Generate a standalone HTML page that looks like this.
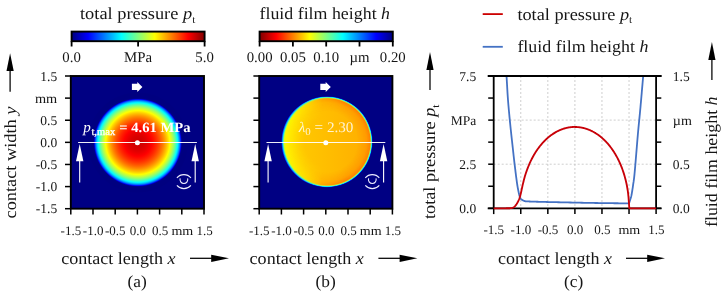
<!DOCTYPE html>
<html><head><meta charset="utf-8"><title>figure</title><style>html,body{margin:0;padding:0;background:#fff;overflow:hidden}svg{display:block;will-change:transform}text{font-family:"Liberation Serif",serif;fill:#161616;text-rendering:geometricPrecision}</style></head><body>
<svg width="728" height="295" viewBox="0 0 728 295">
<defs>
<linearGradient id="jet" x1="0" x2="1" y1="0" y2="0"><stop offset="0.0000" stop-color="#000080"/><stop offset="0.0312" stop-color="#00009f"/><stop offset="0.0625" stop-color="#0000bf"/><stop offset="0.0938" stop-color="#0000df"/><stop offset="0.1250" stop-color="#0000ff"/><stop offset="0.1562" stop-color="#0020ff"/><stop offset="0.1875" stop-color="#0040ff"/><stop offset="0.2188" stop-color="#0060ff"/><stop offset="0.2500" stop-color="#0080ff"/><stop offset="0.2812" stop-color="#009fff"/><stop offset="0.3125" stop-color="#00bfff"/><stop offset="0.3438" stop-color="#00dfff"/><stop offset="0.3750" stop-color="#00ffff"/><stop offset="0.4062" stop-color="#20ffdf"/><stop offset="0.4375" stop-color="#40ffbf"/><stop offset="0.4688" stop-color="#60ff9f"/><stop offset="0.5000" stop-color="#80ff80"/><stop offset="0.5312" stop-color="#9fff60"/><stop offset="0.5625" stop-color="#bfff40"/><stop offset="0.5938" stop-color="#dfff20"/><stop offset="0.6250" stop-color="#ffff00"/><stop offset="0.6562" stop-color="#ffdf00"/><stop offset="0.6875" stop-color="#ffbf00"/><stop offset="0.7188" stop-color="#ff9f00"/><stop offset="0.7500" stop-color="#ff8000"/><stop offset="0.7812" stop-color="#ff6000"/><stop offset="0.8125" stop-color="#ff4000"/><stop offset="0.8438" stop-color="#ff2000"/><stop offset="0.8750" stop-color="#ff0000"/><stop offset="0.9062" stop-color="#df0000"/><stop offset="0.9375" stop-color="#bf0000"/><stop offset="0.9688" stop-color="#9f0000"/><stop offset="1.0000" stop-color="#800000"/></linearGradient>
<linearGradient id="jetr" x1="0" x2="1" y1="0" y2="0"><stop offset="0.0000" stop-color="#800000"/><stop offset="0.0312" stop-color="#9f0000"/><stop offset="0.0625" stop-color="#bf0000"/><stop offset="0.0938" stop-color="#df0000"/><stop offset="0.1250" stop-color="#ff0000"/><stop offset="0.1562" stop-color="#ff2000"/><stop offset="0.1875" stop-color="#ff4000"/><stop offset="0.2188" stop-color="#ff6000"/><stop offset="0.2500" stop-color="#ff8000"/><stop offset="0.2812" stop-color="#ff9f00"/><stop offset="0.3125" stop-color="#ffbf00"/><stop offset="0.3438" stop-color="#ffdf00"/><stop offset="0.3750" stop-color="#ffff00"/><stop offset="0.4062" stop-color="#dfff20"/><stop offset="0.4375" stop-color="#bfff40"/><stop offset="0.4688" stop-color="#9fff60"/><stop offset="0.5000" stop-color="#80ff80"/><stop offset="0.5312" stop-color="#60ff9f"/><stop offset="0.5625" stop-color="#40ffbf"/><stop offset="0.5938" stop-color="#20ffdf"/><stop offset="0.6250" stop-color="#00ffff"/><stop offset="0.6562" stop-color="#00dfff"/><stop offset="0.6875" stop-color="#00bfff"/><stop offset="0.7188" stop-color="#009fff"/><stop offset="0.7500" stop-color="#0080ff"/><stop offset="0.7812" stop-color="#0060ff"/><stop offset="0.8125" stop-color="#0040ff"/><stop offset="0.8438" stop-color="#0020ff"/><stop offset="0.8750" stop-color="#0000ff"/><stop offset="0.9062" stop-color="#0000df"/><stop offset="0.9375" stop-color="#0000bf"/><stop offset="0.9688" stop-color="#00009f"/><stop offset="1.0000" stop-color="#000080"/></linearGradient>
<radialGradient id="hz" cx="0.5" cy="0.5" r="0.5"><stop offset="0.0000" stop-color="#cf0000"/><stop offset="0.0100" stop-color="#cf0000"/><stop offset="0.0200" stop-color="#cf0000"/><stop offset="0.0300" stop-color="#d00000"/><stop offset="0.0400" stop-color="#d00000"/><stop offset="0.0500" stop-color="#d10000"/><stop offset="0.0600" stop-color="#d10000"/><stop offset="0.0700" stop-color="#d20000"/><stop offset="0.0800" stop-color="#d30000"/><stop offset="0.0900" stop-color="#d40000"/><stop offset="0.1000" stop-color="#d50000"/><stop offset="0.1100" stop-color="#d70000"/><stop offset="0.1200" stop-color="#d80000"/><stop offset="0.1300" stop-color="#da0000"/><stop offset="0.1400" stop-color="#db0000"/><stop offset="0.1500" stop-color="#dd0000"/><stop offset="0.1600" stop-color="#df0000"/><stop offset="0.1700" stop-color="#e10000"/><stop offset="0.1800" stop-color="#e30000"/><stop offset="0.1900" stop-color="#e60000"/><stop offset="0.2000" stop-color="#e80000"/><stop offset="0.2100" stop-color="#eb0000"/><stop offset="0.2200" stop-color="#ee0000"/><stop offset="0.2300" stop-color="#f10000"/><stop offset="0.2400" stop-color="#f40000"/><stop offset="0.2500" stop-color="#f70000"/><stop offset="0.2600" stop-color="#fa0000"/><stop offset="0.2700" stop-color="#fd0000"/><stop offset="0.2800" stop-color="#ff0200"/><stop offset="0.2900" stop-color="#ff0600"/><stop offset="0.3000" stop-color="#ff0a00"/><stop offset="0.3100" stop-color="#ff0e00"/><stop offset="0.3200" stop-color="#ff1200"/><stop offset="0.3300" stop-color="#ff1600"/><stop offset="0.3400" stop-color="#ff1b00"/><stop offset="0.3500" stop-color="#ff1f00"/><stop offset="0.3600" stop-color="#ff2400"/><stop offset="0.3700" stop-color="#ff2900"/><stop offset="0.3800" stop-color="#ff2e00"/><stop offset="0.3900" stop-color="#ff3400"/><stop offset="0.4000" stop-color="#ff3900"/><stop offset="0.4100" stop-color="#ff3f00"/><stop offset="0.4200" stop-color="#ff4500"/><stop offset="0.4300" stop-color="#ff4b00"/><stop offset="0.4400" stop-color="#ff5100"/><stop offset="0.4500" stop-color="#ff5800"/><stop offset="0.4600" stop-color="#ff5e00"/><stop offset="0.4700" stop-color="#ff6500"/><stop offset="0.4800" stop-color="#ff6c00"/><stop offset="0.4900" stop-color="#ff7300"/><stop offset="0.5000" stop-color="#ff7b00"/><stop offset="0.5100" stop-color="#ff8300"/><stop offset="0.5200" stop-color="#ff8a00"/><stop offset="0.5300" stop-color="#ff9300"/><stop offset="0.5400" stop-color="#ff9b00"/><stop offset="0.5500" stop-color="#ffa400"/><stop offset="0.5600" stop-color="#ffad00"/><stop offset="0.5700" stop-color="#ffb600"/><stop offset="0.5800" stop-color="#ffbf00"/><stop offset="0.5900" stop-color="#ffc900"/><stop offset="0.6000" stop-color="#ffd300"/><stop offset="0.6100" stop-color="#ffde00"/><stop offset="0.6200" stop-color="#ffe900"/><stop offset="0.6300" stop-color="#fff400"/><stop offset="0.6400" stop-color="#ffff00"/><stop offset="0.6500" stop-color="#f3ff0c"/><stop offset="0.6600" stop-color="#e6ff19"/><stop offset="0.6700" stop-color="#d9ff26"/><stop offset="0.6800" stop-color="#ccff33"/><stop offset="0.6900" stop-color="#beff41"/><stop offset="0.7000" stop-color="#b0ff4f"/><stop offset="0.7100" stop-color="#a1ff5e"/><stop offset="0.7200" stop-color="#92ff6d"/><stop offset="0.7300" stop-color="#81ff7e"/><stop offset="0.7400" stop-color="#70ff8f"/><stop offset="0.7500" stop-color="#5effa1"/><stop offset="0.7600" stop-color="#4bffb4"/><stop offset="0.7700" stop-color="#37ffc8"/><stop offset="0.7800" stop-color="#22ffdd"/><stop offset="0.7900" stop-color="#0cfff3"/><stop offset="0.8000" stop-color="#00f2ff"/><stop offset="0.8100" stop-color="#00d8ff"/><stop offset="0.8200" stop-color="#00bbff"/><stop offset="0.8300" stop-color="#009bff"/><stop offset="0.8400" stop-color="#0076ff"/><stop offset="0.8500" stop-color="#004bff"/><stop offset="0.8600" stop-color="#0013ff"/><stop offset="0.8700" stop-color="#0000c8"/><stop offset="0.8800" stop-color="#000090"/><stop offset="0.8900" stop-color="#000085"/><stop offset="0.9000" stop-color="#000082"/><stop offset="0.9100" stop-color="#000080"/><stop offset="0.9200" stop-color="#000080"/><stop offset="0.9300" stop-color="#000080"/><stop offset="0.9400" stop-color="#000080"/><stop offset="0.9500" stop-color="#000080"/><stop offset="0.9600" stop-color="#000080"/><stop offset="0.9700" stop-color="#000080"/><stop offset="0.9800" stop-color="#000080"/><stop offset="0.9900" stop-color="#000080"/><stop offset="1.0000" stop-color="#000080"/></radialGradient>
<linearGradient id="film" x1="0" x2="1" y1="0" y2="0"><stop offset="0" stop-color="#ffd800"/><stop offset="0.2" stop-color="#ffc800"/><stop offset="0.55" stop-color="#ffbc00"/><stop offset="1" stop-color="#ffac00"/></linearGradient>
<radialGradient id="shoe" cx="0.5" cy="0.5" r="0.5"><stop offset="0" stop-color="#ff8400" stop-opacity="0"/><stop offset="0.68" stop-color="#ff8400" stop-opacity="0"/><stop offset="0.88" stop-color="#ff8400" stop-opacity="0.42"/><stop offset="0.96" stop-color="#ff7c00" stop-opacity="0.85"/><stop offset="1" stop-color="#ff7c00" stop-opacity="0.9"/></radialGradient>
<radialGradient id="inl" cx="0.5" cy="0.5" r="0.5"><stop offset="0" stop-color="#fff000" stop-opacity="0"/><stop offset="0.5" stop-color="#fff000" stop-opacity="0"/><stop offset="0.86" stop-color="#fff000" stop-opacity="0.9"/><stop offset="1" stop-color="#f4ff00" stop-opacity="1"/></radialGradient>
<linearGradient id="mR" x1="0" x2="1" y1="0" y2="0"><stop offset="0.25" stop-color="#000"/><stop offset="0.7" stop-color="#fff"/></linearGradient>
<linearGradient id="mL" x1="0" x2="1" y1="0" y2="0"><stop offset="0.05" stop-color="#fff"/><stop offset="0.45" stop-color="#000"/></linearGradient>
<mask id="maskR" maskContentUnits="objectBoundingBox"><rect x="0" y="0" width="1" height="1" fill="url(#mR)"/></mask>
<mask id="maskL" maskContentUnits="objectBoundingBox"><rect x="0" y="0" width="1" height="1" fill="url(#mL)"/></mask>
<radialGradient id="rimL" cx="0.5" cy="0.5" r="0.5"><stop offset="0.93" stop-color="#c0ff40" stop-opacity="0"/><stop offset="0.955" stop-color="#80ff80" stop-opacity="0.9"/><stop offset="0.975" stop-color="#00d0ff"/><stop offset="1" stop-color="#0010f0"/></radialGradient>
<radialGradient id="rim" cx="0.5" cy="0.5" r="0.5"><stop offset="0.95" stop-color="#c0ff40" stop-opacity="0"/><stop offset="0.972" stop-color="#a0ff60" stop-opacity="0.9"/><stop offset="0.985" stop-color="#00e8ff"/><stop offset="1" stop-color="#0020ff"/></radialGradient>
</defs>
<rect x="70.8" y="76.0" width="133.2" height="132.7" fill="#000083"/>
<circle cx="137.8" cy="142.54999999999998" r="50" fill="url(#hz)"/>
<rect x="70.8" y="76.0" width="133.2" height="132.7" fill="none" stroke="#000" stroke-width="1.9"/>
<line x1="65.0" y1="76.0" x2="70.8" y2="76.0" stroke="#000" stroke-width="1.5" />
<line x1="70.8" y1="208.7" x2="70.8" y2="214.5" stroke="#000" stroke-width="1.5" />
<line x1="65.0" y1="98.11666666666666" x2="70.8" y2="98.11666666666666" stroke="#000" stroke-width="1.5" />
<line x1="93.0" y1="208.7" x2="93.0" y2="214.5" stroke="#000" stroke-width="1.5" />
<line x1="65.0" y1="120.23333333333332" x2="70.8" y2="120.23333333333332" stroke="#000" stroke-width="1.5" />
<line x1="115.19999999999999" y1="208.7" x2="115.19999999999999" y2="214.5" stroke="#000" stroke-width="1.5" />
<line x1="65.0" y1="142.35" x2="70.8" y2="142.35" stroke="#000" stroke-width="1.5" />
<line x1="137.39999999999998" y1="208.7" x2="137.39999999999998" y2="214.5" stroke="#000" stroke-width="1.5" />
<line x1="65.0" y1="164.46666666666664" x2="70.8" y2="164.46666666666664" stroke="#000" stroke-width="1.5" />
<line x1="159.6" y1="208.7" x2="159.6" y2="214.5" stroke="#000" stroke-width="1.5" />
<line x1="65.0" y1="186.58333333333331" x2="70.8" y2="186.58333333333331" stroke="#000" stroke-width="1.5" />
<line x1="181.8" y1="208.7" x2="181.8" y2="214.5" stroke="#000" stroke-width="1.5" />
<line x1="65.0" y1="208.7" x2="70.8" y2="208.7" stroke="#000" stroke-width="1.5" />
<line x1="204.0" y1="208.7" x2="204.0" y2="214.5" stroke="#000" stroke-width="1.5" />
<text transform="translate(57.199999999999996,80.5)" font-size="13.5" text-anchor="end" >1.5</text>
<text transform="translate(57.199999999999996,102.61666666666666) scale(1.06,1)" font-size="13.5" text-anchor="end" >mm</text>
<text transform="translate(57.199999999999996,124.73333333333332)" font-size="13.5" text-anchor="end" >0.5</text>
<text transform="translate(57.199999999999996,146.85)" font-size="13.5" text-anchor="end" >0.0</text>
<text transform="translate(57.199999999999996,168.96666666666664)" font-size="13.5" text-anchor="end" >-0.5</text>
<text transform="translate(57.199999999999996,191.08333333333331)" font-size="13.5" text-anchor="end" >-1.0</text>
<text transform="translate(57.199999999999996,213.2)" font-size="13.5" text-anchor="end" >-1.5</text>
<text transform="translate(70.89999999999999,234.7)" font-size="13.0" text-anchor="middle" >-1.5</text>
<text transform="translate(93.1,234.7)" font-size="13.0" text-anchor="middle" >-1.0</text>
<text transform="translate(115.29999999999998,234.7)" font-size="13.0" text-anchor="middle" >-0.5</text>
<text transform="translate(137.89999999999998,234.7)" font-size="13.0" text-anchor="middle" >0.0</text>
<text transform="translate(160.1,234.7)" font-size="13.0" text-anchor="middle" >0.5</text>
<text transform="translate(182.3,234.7) scale(1.08,1)" font-size="13.0" text-anchor="middle" >mm</text>
<text transform="translate(204.5,234.7)" font-size="13.0" text-anchor="middle" >1.5</text>
<line x1="78.1" y1="142.54999999999998" x2="196.9" y2="142.54999999999998" stroke="#fff" stroke-width="1.05" stroke-opacity="0.93"/>
<circle cx="137.4" cy="142.65" r="2.5" fill="#fff"/>
<line x1="79.7" y1="182.5" x2="79.7" y2="158" stroke="#fff" stroke-width="1.1" />
<path d="M79.7 143.95 l-3.7 17.3 h7.4 z" fill="#fff"/>
<line x1="195.2" y1="182.5" x2="195.2" y2="158" stroke="#fff" stroke-width="1.1" />
<path d="M195.2 143.95 l-3.7 17.3 h7.4 z" fill="#fff"/>
<path d="M131.9 83.85 h5.4 v-1.95 l5.1 5 l-5.1 5 v-1.95 h-5.4 z" fill="#fff"/>
<g transform="translate(183.9,181.6)" fill="none" stroke="#ececff" stroke-width="1.1"><path d="M-7 -3.7 A9.1 9.1 0 0 1 7 -3.7"/><path d="M-7 3.8 A9.2 9.2 0 0 0 7 3.8"/><path d="M-3.7 -3.2 A3.9 3.9 0 1 0 3.7 -3.2"/></g>
<text x="61.199999999999996" y="264" font-size="17" textLength="114.3" lengthAdjust="spacingAndGlyphs">contact length <tspan font-style="italic">x</tspan></text>
<line x1="190.0" y1="258.3" x2="213.0" y2="258.3" stroke="#000" stroke-width="1.25" />
<path d="M229.0 258.3 l-17.8 -3.6 v7.2 z" fill="#000"/>
<text transform="translate(137.20000000000002,286.9) scale(1.02,1)" font-size="17" text-anchor="middle" >(a)</text>
<rect x="259.2" y="76.0" width="133.2" height="132.7" fill="#000083"/>
<circle cx="326.99999999999994" cy="141.85" r="44.6" fill="url(#film)"/>
<circle cx="326.99999999999994" cy="141.85" r="44.6" fill="url(#shoe)" mask="url(#maskR)"/>
<circle cx="326.99999999999994" cy="141.85" r="44.6" fill="url(#inl)" mask="url(#maskL)"/>
<circle cx="326.99999999999994" cy="141.85" r="45.4" fill="url(#rim)"/>
<circle cx="326.99999999999994" cy="141.85" r="45.4" fill="url(#rimL)" mask="url(#maskL)"/>
<rect x="259.2" y="76.0" width="133.2" height="132.7" fill="none" stroke="#000" stroke-width="1.9"/>
<line x1="253.39999999999998" y1="76.0" x2="259.2" y2="76.0" stroke="#000" stroke-width="1.5" />
<line x1="259.2" y1="208.7" x2="259.2" y2="214.5" stroke="#000" stroke-width="1.5" />
<line x1="253.39999999999998" y1="98.11666666666666" x2="259.2" y2="98.11666666666666" stroke="#000" stroke-width="1.5" />
<line x1="281.4" y1="208.7" x2="281.4" y2="214.5" stroke="#000" stroke-width="1.5" />
<line x1="253.39999999999998" y1="120.23333333333332" x2="259.2" y2="120.23333333333332" stroke="#000" stroke-width="1.5" />
<line x1="303.59999999999997" y1="208.7" x2="303.59999999999997" y2="214.5" stroke="#000" stroke-width="1.5" />
<line x1="253.39999999999998" y1="142.35" x2="259.2" y2="142.35" stroke="#000" stroke-width="1.5" />
<line x1="325.79999999999995" y1="208.7" x2="325.79999999999995" y2="214.5" stroke="#000" stroke-width="1.5" />
<line x1="253.39999999999998" y1="164.46666666666664" x2="259.2" y2="164.46666666666664" stroke="#000" stroke-width="1.5" />
<line x1="348.0" y1="208.7" x2="348.0" y2="214.5" stroke="#000" stroke-width="1.5" />
<line x1="253.39999999999998" y1="186.58333333333331" x2="259.2" y2="186.58333333333331" stroke="#000" stroke-width="1.5" />
<line x1="370.2" y1="208.7" x2="370.2" y2="214.5" stroke="#000" stroke-width="1.5" />
<line x1="253.39999999999998" y1="208.7" x2="259.2" y2="208.7" stroke="#000" stroke-width="1.5" />
<line x1="392.4" y1="208.7" x2="392.4" y2="214.5" stroke="#000" stroke-width="1.5" />
<text transform="translate(259.3,234.7)" font-size="13.0" text-anchor="middle" >-1.5</text>
<text transform="translate(281.5,234.7)" font-size="13.0" text-anchor="middle" >-1.0</text>
<text transform="translate(303.7,234.7)" font-size="13.0" text-anchor="middle" >-0.5</text>
<text transform="translate(326.29999999999995,234.7)" font-size="13.0" text-anchor="middle" >0.0</text>
<text transform="translate(348.5,234.7)" font-size="13.0" text-anchor="middle" >0.5</text>
<text transform="translate(370.7,234.7) scale(1.08,1)" font-size="13.0" text-anchor="middle" >mm</text>
<text transform="translate(392.9,234.7)" font-size="13.0" text-anchor="middle" >1.5</text>
<line x1="266.5" y1="142.54999999999998" x2="385.29999999999995" y2="142.54999999999998" stroke="#fff" stroke-width="1.05" stroke-opacity="0.93"/>
<circle cx="325.79999999999995" cy="142.65" r="2.5" fill="#fff"/>
<line x1="268.09999999999997" y1="182.5" x2="268.09999999999997" y2="158" stroke="#fff" stroke-width="1.1" />
<path d="M268.09999999999997 143.95 l-3.7 17.3 h7.4 z" fill="#fff"/>
<line x1="383.59999999999997" y1="182.5" x2="383.59999999999997" y2="158" stroke="#fff" stroke-width="1.1" />
<path d="M383.59999999999997 143.95 l-3.7 17.3 h7.4 z" fill="#fff"/>
<path d="M320.29999999999995 83.85 h5.4 v-1.95 l5.1 5 l-5.1 5 v-1.95 h-5.4 z" fill="#fff"/>
<g transform="translate(372.29999999999995,181.6)" fill="none" stroke="#ececff" stroke-width="1.1"><path d="M-7 -3.7 A9.1 9.1 0 0 1 7 -3.7"/><path d="M-7 3.8 A9.2 9.2 0 0 0 7 3.8"/><path d="M-3.7 -3.2 A3.9 3.9 0 1 0 3.7 -3.2"/></g>
<text x="249.6" y="264" font-size="17" textLength="114.3" lengthAdjust="spacingAndGlyphs">contact length <tspan font-style="italic">x</tspan></text>
<line x1="378.4" y1="258.3" x2="401.4" y2="258.3" stroke="#000" stroke-width="1.25" />
<path d="M417.4 258.3 l-17.8 -3.6 v7.2 z" fill="#000"/>
<text transform="translate(325.59999999999997,286.9) scale(1.02,1)" font-size="17" text-anchor="middle" >(b)</text>
<rect x="71.6" y="31.6" width="133.0" height="9.6" fill="url(#jet)" stroke="#000" stroke-width="1.9"/>
<line x1="71.6" y1="41.2" x2="71.6" y2="46.5" stroke="#000" stroke-width="1.8" />
<text transform="translate(71.6,61.9)" font-size="14.8" text-anchor="middle" >0.0</text>
<line x1="138.1" y1="41.2" x2="138.1" y2="46.5" stroke="#000" stroke-width="1.8" />
<text transform="translate(138.1,61.9)" font-size="14.8" text-anchor="middle" >MPa</text>
<line x1="204.6" y1="41.2" x2="204.6" y2="46.5" stroke="#000" stroke-width="1.8" />
<text transform="translate(204.6,61.9)" font-size="14.8" text-anchor="middle" >5.0</text>
<rect x="259.6" y="31.6" width="133.2" height="9.6" fill="url(#jetr)" stroke="#000" stroke-width="1.9"/>
<line x1="259.6" y1="41.2" x2="259.6" y2="46.5" stroke="#000" stroke-width="1.8" />
<text transform="translate(259.6,61.9)" font-size="14.8" text-anchor="middle" >0.00</text>
<line x1="292.90000000000003" y1="41.2" x2="292.90000000000003" y2="46.5" stroke="#000" stroke-width="1.8" />
<text transform="translate(292.90000000000003,61.9)" font-size="14.8" text-anchor="middle" >0.05</text>
<line x1="326.20000000000005" y1="41.2" x2="326.20000000000005" y2="46.5" stroke="#000" stroke-width="1.8" />
<text transform="translate(326.20000000000005,61.9)" font-size="14.8" text-anchor="middle" >0.10</text>
<line x1="359.5" y1="41.2" x2="359.5" y2="46.5" stroke="#000" stroke-width="1.8" />
<text transform="translate(359.5,61.9)" font-size="14.8" text-anchor="middle" >µm</text>
<line x1="392.8" y1="41.2" x2="392.8" y2="46.5" stroke="#000" stroke-width="1.8" />
<text transform="translate(392.8,61.9)" font-size="14.8" text-anchor="middle" >0.20</text>
<text x="80" y="19.4" font-size="17" textLength="115.3" lengthAdjust="spacingAndGlyphs">total pressure <tspan font-style="italic">p</tspan><tspan font-size="10.5" dy="3.6">t</tspan></text>
<text x="259.5" y="19.4" font-size="17" textLength="130.5" lengthAdjust="spacingAndGlyphs">fluid film height <tspan font-style="italic">h</tspan></text>
<g style="fill:#fff"><text x="83.2" y="131.5" font-size="15" font-style="italic" style="fill:#fff">p</text><text x="91.4" y="134.7" font-size="10.5" textLength="23.8" lengthAdjust="spacingAndGlyphs" style="fill:#fff;stroke:#fff;stroke-width:0.3">t,max</text><text x="119.3" y="131.6" font-size="14.2" font-weight="bold" textLength="71.2" lengthAdjust="spacingAndGlyphs" style="fill:#fff">= 4.61 MPa</text></g>
<text x="298.8" y="131.6" font-size="14.6" textLength="54.6" lengthAdjust="spacingAndGlyphs" style="fill:#fff;fill-opacity:0.82"><tspan font-style="italic">λ</tspan><tspan font-size="10.5" dy="3">0</tspan><tspan dy="-3"> = 2.30</tspan></text>
<text transform="translate(16.3,218.5) rotate(-90)" font-size="17" textLength="111.9" lengthAdjust="spacingAndGlyphs">contact width <tspan font-style="italic">y</tspan></text>
<line x1="10.1" y1="91.7" x2="10.1" y2="69.3" stroke="#000" stroke-width="1.25" />
<path d="M10.1 53.3 l-3.6 17.8 h7.2 z" fill="#000"/>
<line x1="520.7666666666667" y1="76.0" x2="520.7666666666667" y2="208.3" stroke="#c2c2c2" stroke-width="0.8" stroke-dasharray="2,2"/>
<line x1="547.8333333333334" y1="76.0" x2="547.8333333333334" y2="208.3" stroke="#c2c2c2" stroke-width="0.8" stroke-dasharray="2,2"/>
<line x1="574.9" y1="76.0" x2="574.9" y2="208.3" stroke="#c2c2c2" stroke-width="0.8" stroke-dasharray="2,2"/>
<line x1="601.9666666666667" y1="76.0" x2="601.9666666666667" y2="208.3" stroke="#c2c2c2" stroke-width="0.8" stroke-dasharray="2,2"/>
<line x1="629.0333333333333" y1="76.0" x2="629.0333333333333" y2="208.3" stroke="#c2c2c2" stroke-width="0.8" stroke-dasharray="2,2"/>
<line x1="493.7" y1="120.1" x2="656.1" y2="120.1" stroke="#c2c2c2" stroke-width="0.8" stroke-dasharray="2,2"/>
<line x1="493.7" y1="164.2" x2="656.1" y2="164.2" stroke="#c2c2c2" stroke-width="0.8" stroke-dasharray="2,2"/>
<clipPath id="cp"><rect x="493.7" y="76.0" width="162.40000000000003" height="134.3"/></clipPath>
<polyline clip-path="url(#cp)" points="505.20,62.00 505.24,62.37 505.28,62.78 505.32,63.23 505.37,63.73 505.43,64.26 505.49,64.83 505.55,65.43 505.62,66.07 505.69,66.74 505.76,67.44 505.83,68.18 505.90,68.94 505.98,69.73 506.05,70.54 506.13,71.38 506.21,72.24 506.28,73.13 506.36,74.03 506.43,74.96 506.50,75.90 506.57,76.87 506.64,77.89 506.71,78.95 506.77,80.05 506.84,81.19 506.91,82.35 506.98,83.55 507.05,84.76 507.12,86.00 507.19,87.26 507.26,88.53 507.33,89.81 507.41,91.09 507.48,92.38 507.56,93.67 507.65,94.96 507.73,96.24 507.82,97.51 507.91,98.76 508.00,100.00 508.10,101.23 508.20,102.47 508.30,103.71 508.40,104.96 508.51,106.21 508.62,107.47 508.73,108.72 508.85,109.98 508.96,111.24 509.08,112.51 509.20,113.77 509.32,115.03 509.44,116.29 509.56,117.55 509.69,118.80 509.81,120.05 509.93,121.30 510.05,122.54 510.18,123.77 510.30,125.00 510.42,126.23 510.55,127.48 510.68,128.73 510.81,129.99 510.95,131.26 511.08,132.53 511.22,133.79 511.36,135.06 511.49,136.31 511.63,137.56 511.77,138.80 511.90,140.02 512.04,141.23 512.17,142.42 512.30,143.59 512.43,144.73 512.55,145.84 512.67,146.93 512.79,147.98 512.90,149.00 513.01,149.98 513.11,150.91 513.21,151.80 513.30,152.65 513.39,153.47 513.47,154.26 513.56,155.03 513.64,155.78 513.72,156.52 513.80,157.25 513.88,157.97 513.96,158.70 514.04,159.42 514.13,160.16 514.21,160.91 514.30,161.67 514.39,162.46 514.49,163.27 514.59,164.12 514.70,165.00 514.81,165.92 514.93,166.87 515.05,167.86 515.17,168.87 515.30,169.91 515.42,170.96 515.55,172.03 515.69,173.10 515.82,174.18 515.96,175.26 516.09,176.33 516.23,177.39 516.37,178.44 516.50,179.47 516.64,180.48 516.77,181.45 516.91,182.40 517.04,183.31 517.17,184.18 517.30,185.00 517.43,185.79 517.56,186.56 517.69,187.31 517.82,188.05 517.95,188.76 518.08,189.46 518.21,190.13 518.34,190.79 518.47,191.42 518.60,192.04 518.73,192.63 518.86,193.20 518.98,193.75 519.10,194.27 519.23,194.77 519.35,195.24 519.46,195.70 519.58,196.12 519.69,196.52 519.80,196.90 519.91,197.24 520.01,197.54 520.10,197.81 520.20,198.04 520.29,198.23 520.37,198.40 520.46,198.55 520.54,198.67 520.62,198.78 520.71,198.86 520.79,198.94 520.87,199.00 520.95,199.06 521.04,199.11 521.12,199.16 521.21,199.21 521.30,199.27 521.40,199.33 521.50,199.41 521.60,199.50 521.71,199.60 521.81,199.69 521.92,199.77 522.02,199.85 522.13,199.93 522.24,200.01 522.35,200.08 522.46,200.15 522.58,200.21 522.69,200.27 522.81,200.34 522.93,200.39 523.05,200.45 523.18,200.50 523.31,200.55 523.44,200.61 523.57,200.66 523.71,200.70 523.85,200.75 524.00,200.80 524.13,200.85 524.23,200.89 524.31,200.93 524.37,200.96 524.42,201.00 524.47,201.03 524.51,201.06 524.55,201.09 524.61,201.12 524.68,201.14 524.77,201.17 524.90,201.19 525.05,201.22 525.24,201.24 525.47,201.27 525.76,201.29 526.10,201.32 526.50,201.34 526.96,201.37 527.50,201.40 528.09,201.43 528.70,201.46 529.33,201.49 530.00,201.52 530.70,201.54 531.43,201.57 532.21,201.60 533.02,201.63 533.88,201.65 534.78,201.68 535.73,201.71 536.74,201.74 537.80,201.77 538.92,201.80 540.10,201.83 541.34,201.86 542.65,201.89 544.03,201.93 545.48,201.96 547.00,202.00 548.64,202.04 550.41,202.08 552.30,202.12 554.30,202.17 556.40,202.22 558.58,202.26 560.83,202.31 563.13,202.36 565.47,202.41 567.84,202.46 570.23,202.51 572.61,202.56 574.98,202.61 577.32,202.66 579.61,202.70 581.86,202.75 584.03,202.79 586.12,202.83 588.12,202.87 590.00,202.90 591.82,202.93 593.62,202.96 595.41,202.99 597.17,203.02 598.91,203.04 600.62,203.07 602.30,203.09 603.94,203.11 605.55,203.13 607.12,203.15 608.65,203.17 610.14,203.19 611.57,203.20 612.95,203.22 614.28,203.23 615.55,203.25 616.76,203.26 617.91,203.27 618.99,203.29 620.00,203.30 620.93,203.31 621.79,203.32 622.57,203.33 623.29,203.34 623.94,203.35 624.53,203.36 625.06,203.36 625.54,203.37 625.98,203.37 626.38,203.38 626.73,203.38 627.06,203.38 627.35,203.38 627.62,203.39 627.88,203.39 628.11,203.39 628.34,203.39 628.56,203.40 628.78,203.40 629.00,203.40 629.00,203.40 629.03,203.31 629.06,203.20 629.10,203.09 629.14,202.96 629.19,202.83 629.24,202.68 629.29,202.53 629.35,202.36 629.40,202.19 629.46,202.01 629.52,201.83 629.59,201.64 629.65,201.44 629.71,201.24 629.78,201.04 629.84,200.84 629.91,200.63 629.97,200.42 630.04,200.21 630.10,200.00 630.16,199.79 630.23,199.59 630.29,199.38 630.36,199.18 630.42,198.98 630.49,198.78 630.56,198.57 630.63,198.36 630.70,198.14 630.77,197.91 630.84,197.68 630.91,197.44 630.98,197.18 631.06,196.92 631.13,196.64 631.20,196.35 631.28,196.04 631.35,195.71 631.43,195.36 631.50,195.00 631.58,194.62 631.65,194.22 631.73,193.80 631.81,193.37 631.89,192.92 631.97,192.46 632.05,191.99 632.13,191.50 632.21,191.01 632.29,190.50 632.37,189.98 632.45,189.46 632.53,188.92 632.61,188.38 632.70,187.83 632.78,187.27 632.86,186.71 632.94,186.14 633.02,185.57 633.10,185.00 633.18,184.45 633.25,183.93 633.32,183.45 633.39,182.99 633.46,182.55 633.53,182.11 633.60,181.67 633.66,181.22 633.73,180.75 633.80,180.25 633.87,179.72 633.94,179.14 634.02,178.52 634.10,177.83 634.19,177.08 634.28,176.25 634.37,175.33 634.48,174.33 634.58,173.22 634.70,172.00 634.82,170.65 634.96,169.15 635.10,167.53 635.25,165.79 635.41,163.95 635.57,162.03 635.73,160.03 635.90,157.98 636.08,155.88 636.25,153.75 636.43,151.61 636.60,149.46 636.78,147.33 636.95,145.23 637.12,143.17 637.29,141.17 637.45,139.23 637.61,137.39 637.76,135.64 637.90,134.00 638.04,132.47 638.17,131.01 638.30,129.62 638.42,128.30 638.54,127.03 638.66,125.80 638.78,124.61 638.89,123.45 639.01,122.32 639.12,121.19 639.23,120.08 639.34,118.96 639.45,117.83 639.57,116.69 639.68,115.51 639.80,114.31 639.92,113.06 640.04,111.77 640.17,110.42 640.30,109.00 640.44,107.50 640.58,105.93 640.72,104.29 640.88,102.59 641.03,100.84 641.19,99.06 641.35,97.25 641.51,95.42 641.67,93.59 641.82,91.76 641.98,89.94 642.14,88.15 642.29,86.39 642.44,84.67 642.58,83.01 642.72,81.42 642.85,79.90 642.98,78.47 643.09,77.13 643.20,75.90 643.30,74.76 643.39,73.67 643.48,72.64 643.57,71.67 643.65,70.75 643.72,69.88 643.79,69.06 643.86,68.29 643.92,67.56 643.98,66.88 644.04,66.24 644.09,65.64 644.14,65.07 644.18,64.54 644.22,64.05 644.26,63.58 644.30,63.15 644.34,62.74 644.37,62.36 644.40,62.00" fill="none" stroke="#4472c4" stroke-width="1.8" stroke-linejoin="round"/>
<path d="M487.7 76.0 H661.6 M493.7 76.0 V208.3 M656.1 76.0 V208.3 M487.7 208.3 H661.6" stroke="#000" stroke-width="1.8" fill="none"/>
<line x1="488.2" y1="76.0" x2="493.7" y2="76.0" stroke="#000" stroke-width="1.5" />
<line x1="656.1" y1="76.0" x2="661.3000000000001" y2="76.0" stroke="#000" stroke-width="1.5" />
<line x1="493.7" y1="208.3" x2="493.7" y2="214.10000000000002" stroke="#000" stroke-width="1.5" />
<line x1="488.2" y1="98.05" x2="493.7" y2="98.05" stroke="#000" stroke-width="1.5" />
<line x1="656.1" y1="98.05" x2="661.3000000000001" y2="98.05" stroke="#000" stroke-width="1.5" />
<line x1="520.7666666666667" y1="208.3" x2="520.7666666666667" y2="214.10000000000002" stroke="#000" stroke-width="1.5" />
<line x1="488.2" y1="120.1" x2="493.7" y2="120.1" stroke="#000" stroke-width="1.5" />
<line x1="656.1" y1="120.1" x2="661.3000000000001" y2="120.1" stroke="#000" stroke-width="1.5" />
<line x1="547.8333333333334" y1="208.3" x2="547.8333333333334" y2="214.10000000000002" stroke="#000" stroke-width="1.5" />
<line x1="488.2" y1="142.15" x2="493.7" y2="142.15" stroke="#000" stroke-width="1.5" />
<line x1="656.1" y1="142.15" x2="661.3000000000001" y2="142.15" stroke="#000" stroke-width="1.5" />
<line x1="574.9" y1="208.3" x2="574.9" y2="214.10000000000002" stroke="#000" stroke-width="1.5" />
<line x1="488.2" y1="164.2" x2="493.7" y2="164.2" stroke="#000" stroke-width="1.5" />
<line x1="656.1" y1="164.2" x2="661.3000000000001" y2="164.2" stroke="#000" stroke-width="1.5" />
<line x1="601.9666666666667" y1="208.3" x2="601.9666666666667" y2="214.10000000000002" stroke="#000" stroke-width="1.5" />
<line x1="488.2" y1="186.25" x2="493.7" y2="186.25" stroke="#000" stroke-width="1.5" />
<line x1="656.1" y1="186.25" x2="661.3000000000001" y2="186.25" stroke="#000" stroke-width="1.5" />
<line x1="629.0333333333333" y1="208.3" x2="629.0333333333333" y2="214.10000000000002" stroke="#000" stroke-width="1.5" />
<line x1="488.2" y1="208.3" x2="493.7" y2="208.3" stroke="#000" stroke-width="1.5" />
<line x1="656.1" y1="208.3" x2="661.3000000000001" y2="208.3" stroke="#000" stroke-width="1.5" />
<line x1="656.1" y1="208.3" x2="656.1" y2="214.10000000000002" stroke="#000" stroke-width="1.5" />
<polyline points="493.70,208.30 494.11,208.30 494.51,208.30 494.92,208.30 495.32,208.30 495.73,208.30 496.14,208.30 496.54,208.30 496.95,208.30 497.35,208.30 497.76,208.30 498.17,208.30 498.57,208.30 498.98,208.30 499.38,208.30 499.79,208.30 500.20,208.30 500.60,208.30 501.01,208.30 501.41,208.30 501.82,208.30 502.23,208.30 502.63,208.30 503.04,208.30 503.44,208.30 503.85,208.30 504.26,208.30 504.66,208.30 505.07,208.30 505.47,208.30 505.88,208.30 506.29,208.29 506.69,208.29 507.10,208.29 507.50,208.28 507.91,208.28 508.32,208.27 508.72,208.26 509.13,208.25 509.53,208.24 509.94,208.22 510.35,208.19 510.75,208.15 511.16,208.11 511.56,208.05 511.97,207.97 512.38,207.86 512.78,207.73 513.19,207.56 513.59,207.34 514.00,207.08 514.41,206.76 514.81,206.38 515.22,205.94 515.62,205.44 516.03,204.88 516.44,204.28 516.84,203.64 517.25,202.96 517.65,202.24 518.06,201.48 518.47,200.66 518.87,199.77 519.28,198.76 519.68,197.62 520.09,196.30 520.50,194.78 520.90,193.09 521.31,191.27 521.71,189.39 522.12,187.51 522.53,185.67 522.93,183.90 523.34,182.21 523.74,180.44 524.15,178.93 524.56,177.48 524.96,176.10 525.37,174.77 525.77,173.50 526.18,172.28 526.59,171.10 526.99,169.96 527.40,168.86 527.80,167.80 528.21,166.77 528.62,165.78 529.02,164.81 529.43,163.87 529.83,162.96 530.24,162.07 530.65,161.21 531.05,160.37 531.46,159.55 531.86,158.75 532.27,157.97 532.68,157.21 533.08,156.47 533.49,155.74 533.89,155.03 534.30,154.34 534.71,153.66 535.11,153.00 535.52,152.35 535.92,151.72 536.33,151.10 536.74,150.49 537.14,149.89 537.55,149.31 537.95,148.74 538.36,148.18 538.77,147.63 539.17,147.09 539.58,146.56 539.98,146.05 540.39,145.54 540.80,145.04 541.20,144.55 541.61,144.08 542.01,143.61 542.42,143.15 542.83,142.70 543.23,142.25 543.64,141.82 544.04,141.39 544.45,140.98 544.86,140.57 545.26,140.17 545.67,139.77 546.07,139.39 546.48,139.01 546.89,138.64 547.29,138.27 547.70,137.92 548.10,137.57 548.51,137.22 548.92,136.89 549.32,136.56 549.73,136.23 550.13,135.92 550.54,135.61 550.95,135.31 551.35,135.01 551.76,134.72 552.16,134.43 552.57,134.15 552.98,133.88 553.38,133.62 553.79,133.36 554.19,133.10 554.60,132.85 555.01,132.61 555.41,132.37 555.82,132.14 556.22,131.91 556.63,131.69 557.04,131.48 557.44,131.27 557.85,131.06 558.25,130.86 558.66,130.67 559.07,130.48 559.47,130.30 559.88,130.12 560.28,129.94 560.69,129.78 561.10,129.61 561.50,129.45 561.91,129.30 562.31,129.15 562.72,129.01 563.13,128.87 563.53,128.74 563.94,128.61 564.34,128.49 564.75,128.37 565.16,128.26 565.56,128.15 565.97,128.04 566.37,127.94 566.78,127.85 567.19,127.76 567.59,127.67 568.00,127.59 568.40,127.52 568.81,127.45 569.22,127.38 569.62,127.32 570.03,127.26 570.43,127.21 570.84,127.16 571.25,127.11 571.65,127.08 572.06,127.04 572.46,127.01 572.87,126.99 573.28,126.97 573.68,126.95 574.09,126.94 574.49,126.93 574.90,126.98 575.31,126.98 575.71,126.99 576.12,127.00 576.52,127.02 576.93,127.04 577.34,127.06 577.74,127.09 578.15,127.13 578.55,127.17 578.96,127.21 579.37,127.26 579.77,127.31 580.18,127.37 580.58,127.43 580.99,127.50 581.40,127.57 581.80,127.64 582.21,127.72 582.61,127.81 583.02,127.90 583.43,127.99 583.83,128.09 584.24,128.20 584.64,128.31 585.05,128.42 585.46,128.54 585.86,128.66 586.27,128.79 586.67,128.93 587.08,129.06 587.49,129.21 587.89,129.36 588.30,129.51 588.70,129.67 589.11,129.83 589.52,130.00 589.92,130.17 590.33,130.35 590.73,130.54 591.14,130.73 591.55,130.92 591.95,131.12 592.36,131.32 592.76,131.54 593.17,131.75 593.58,131.97 593.98,132.20 594.39,132.43 594.79,132.67 595.20,132.91 595.61,133.16 596.01,133.42 596.42,133.68 596.82,133.95 597.23,134.22 597.64,134.50 598.04,134.79 598.45,135.08 598.85,135.37 599.26,135.68 599.67,135.99 600.07,136.31 600.48,136.63 600.88,136.96 601.29,137.30 601.70,137.64 602.10,137.99 602.51,138.35 602.91,138.72 603.32,139.09 603.73,139.47 604.13,139.86 604.54,140.25 604.94,140.65 605.35,141.06 605.76,141.48 606.16,141.91 606.57,142.35 606.97,142.79 607.38,143.24 607.79,143.71 608.19,144.18 608.60,144.66 609.00,145.15 609.41,145.65 609.82,146.16 610.22,146.68 610.63,147.21 611.03,147.75 611.44,148.30 611.85,148.86 612.25,149.44 612.66,150.03 613.06,150.63 613.47,151.24 613.88,151.87 614.28,152.51 614.69,153.16 615.09,153.83 615.50,154.51 615.91,155.21 616.31,155.93 616.72,156.66 617.12,157.41 617.53,158.18 617.94,158.97 618.34,159.78 618.75,160.61 619.15,161.47 619.56,162.34 619.97,163.25 620.37,164.18 620.78,165.14 621.18,166.12 621.59,167.15 622.00,168.20 622.40,169.30 622.81,170.44 623.21,171.62 623.62,172.85 624.03,174.14 624.43,175.49 624.84,176.91 625.24,178.41 625.65,180.00 626.06,181.70 626.46,183.53 626.87,185.53 627.27,187.74 627.68,190.23 628.09,193.15 628.49,196.83 628.90,202.55 629.30,208.30 629.71,208.30 630.12,208.30 630.52,208.30 630.93,208.30 631.33,208.30 631.74,208.30 632.15,208.30 632.55,208.30 632.96,208.30 633.36,208.30 633.77,208.30 634.18,208.30 634.58,208.30 634.99,208.30 635.39,208.30 635.80,208.30 636.21,208.30 636.61,208.30 637.02,208.30 637.42,208.30 637.83,208.30 638.24,208.30 638.64,208.30 639.05,208.30 639.45,208.30 639.86,208.30 640.27,208.30 640.67,208.30 641.08,208.30 641.48,208.30 641.89,208.30 642.30,208.30 642.70,208.30 643.11,208.30 643.51,208.30 643.92,208.30 644.33,208.30 644.73,208.30 645.14,208.30 645.54,208.30 645.95,208.30 646.36,208.30 646.76,208.30 647.17,208.30 647.57,208.30 647.98,208.30 648.39,208.30 648.79,208.30 649.20,208.30 649.60,208.30 650.01,208.30 650.42,208.30 650.82,208.30 651.23,208.30 651.63,208.30 652.04,208.30 652.45,208.30 652.85,208.30 653.26,208.30 653.66,208.30 654.07,208.30 654.48,208.30 654.88,208.30 655.29,208.30 655.69,208.30 656.10,208.30" fill="none" stroke="#c80008" stroke-width="1.85" stroke-linejoin="round"/>
<text transform="translate(476.2,80.5)" font-size="13.5" text-anchor="end" >7.5</text>
<text transform="translate(476.2,124.6)" font-size="13.5" text-anchor="end" >MPa</text>
<text transform="translate(476.2,168.7)" font-size="13.5" text-anchor="end" >2.5</text>
<text transform="translate(476.2,212.8)" font-size="13.5" text-anchor="end" >0.0</text>
<text transform="translate(672.8,80.5)" font-size="13.5" text-anchor="start" >1.5</text>
<text transform="translate(672.8,124.6) scale(1.04,1)" font-size="13.5" text-anchor="start" >µm</text>
<text transform="translate(672.8,168.7)" font-size="13.5" text-anchor="start" >0.5</text>
<text transform="translate(672.8,212.8)" font-size="13.5" text-anchor="start" >0.0</text>
<text transform="translate(493.8,234.4)" font-size="13.0" text-anchor="middle" >-1.5</text>
<text transform="translate(520.8666666666667,234.4)" font-size="13.0" text-anchor="middle" >-1.0</text>
<text transform="translate(547.9333333333334,234.4)" font-size="13.0" text-anchor="middle" >-0.5</text>
<text transform="translate(575.1999999999999,234.4)" font-size="13.0" text-anchor="middle" >0.0</text>
<text transform="translate(602.2666666666667,234.4)" font-size="13.0" text-anchor="middle" >0.5</text>
<text transform="translate(629.3333333333333,234.4) scale(1.08,1)" font-size="13.0" text-anchor="middle" >mm</text>
<text transform="translate(656.4,234.4)" font-size="13.0" text-anchor="middle" >1.5</text>
<text x="498" y="264" font-size="17" textLength="114" lengthAdjust="spacingAndGlyphs">contact length <tspan font-style="italic">x</tspan></text>
<line x1="626" y1="258.3" x2="649" y2="258.3" stroke="#000" stroke-width="1.25" />
<path d="M665 258.3 l-17.8 -3.6 v7.2 z" fill="#000"/>
<text transform="translate(573.6,286.9) scale(1.02,1)" font-size="17" text-anchor="middle" >(c)</text>
<line x1="482.7" y1="14.1" x2="502.8" y2="14.1" stroke="#cc0000" stroke-width="1.8" />
<line x1="482.7" y1="46.8" x2="502.8" y2="46.8" stroke="#4472c4" stroke-width="1.8" />
<text x="517.4" y="19.5" font-size="17" textLength="114.8" lengthAdjust="spacingAndGlyphs">total pressure <tspan font-style="italic">p</tspan><tspan font-size="10.5" dy="3.6">t</tspan></text>
<text x="517.4" y="52.1" font-size="17" textLength="131" lengthAdjust="spacingAndGlyphs">fluid film height <tspan font-style="italic">h</tspan></text>
<text transform="translate(435.3,219) rotate(-90)" font-size="17" textLength="114.4" lengthAdjust="spacingAndGlyphs">total pressure <tspan font-style="italic">p</tspan><tspan font-size="10.5" dy="3.6">t</tspan></text>
<line x1="430" y1="90" x2="430" y2="68.1" stroke="#000" stroke-width="1.25" />
<path d="M430 52.1 l-3.6 17.8 h7.2 z" fill="#000"/>
<text transform="translate(716.8,227.0) rotate(-90)" font-size="17" textLength="130.5" lengthAdjust="spacingAndGlyphs">fluid film height <tspan font-style="italic">h</tspan></text>
<line x1="711.9" y1="80" x2="711.9" y2="58.1" stroke="#000" stroke-width="1.25" />
<path d="M711.9 42.1 l-3.6 17.8 h7.2 z" fill="#000"/>
</svg></body></html>
